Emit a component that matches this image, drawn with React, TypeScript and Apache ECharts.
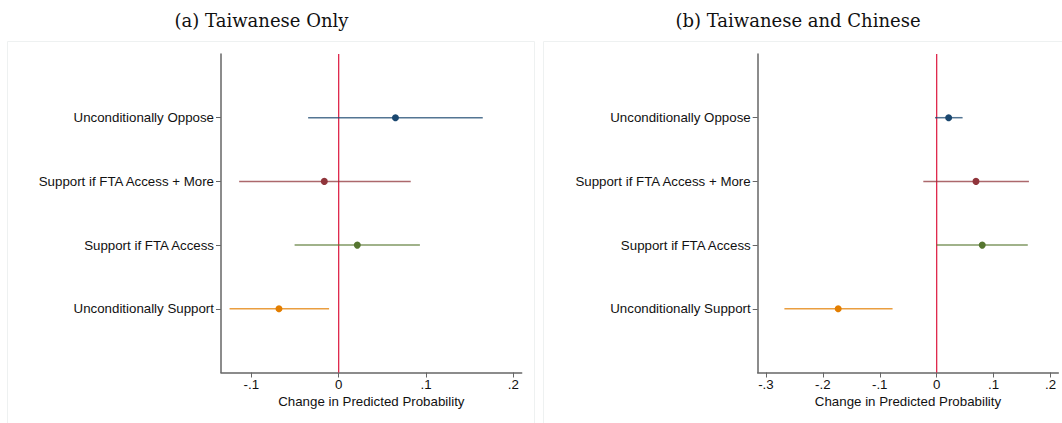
import React, { useEffect, useRef } from "react";
import * as echarts from "echarts";

// Rows, listed top to bottom
const categories = [
  "Unconditionally Oppose",
  "Support if FTA Access + More",
  "Support if FTA Access",
  "Unconditionally Support",
];
const rowColors = ["#1a476f", "#90353b", "#55752f", "#e37e00"];

// (a) Taiwanese Only
const aEst = [0.065, -0.0165, 0.0213, -0.0684];
const aLo = [-0.035, -0.114, -0.0505, -0.125];
const aHi = [0.165, 0.0825, 0.093, -0.011];

// (b) Taiwanese and Chinese
const bEst = [0.021, 0.069, 0.08, -0.173];
const bLo = [-0.003, -0.0235, 0.0, -0.2675];
const bHi = [0.0455, 0.162, 0.16, -0.0775];

const aTicks = [-0.1, 0, 0.1, 0.2];
const bTicks = [-0.3, -0.2, -0.1, 0, 0.1, 0.2];
const rowTicks = [1, 2, 3, 4];

const panelTitles = ["(a) Taiwanese Only", "(b) Taiwanese and Chinese"];
const xName = "Change in Predicted Probability";

const fmtX = (v: number) => {
  if (Math.abs(v) < 1e-9) return "0";
  const s = Math.abs(v).toFixed(1).replace(/^0/, "");
  return (v < 0 ? "-" : "") + s;
};
const rowY = (i: number) => categories.length - i;

export default function App() {
  const ref = useRef<HTMLDivElement>(null);
  useEffect(() => {
    if (!ref.current) return;
    const chart = echarts.init(ref.current, null, { renderer: "svg" });
    const sans = "'Liberation Sans', Arial, Helvetica, sans-serif";
    const axisColor = "#666666";
    const fs = 13.3;

    const makeX = (gi: number, min: number, max: number, ticks: number[]) => ({
      type: "value",
      gridIndex: gi,
      min,
      max,
      name: xName,
      nameLocation: "middle",
      nameGap: 22,
      nameTextStyle: { fontFamily: sans, fontSize: fs, color: "#111" },
      axisLine: { show: true, onZero: false, lineStyle: { color: axisColor, width: 1.5 } },
      axisTick: { show: true, length: 5, customValues: ticks, lineStyle: { color: axisColor, width: 1 } },
      axisLabel: {
        customValues: ticks,
        formatter: (v: number) => fmtX(v),
        fontFamily: sans,
        fontSize: fs,
        color: "#111",
        margin: 5,
      },
      splitLine: { show: false },
    });
    const makeY = (gi: number) => ({
      type: "value",
      gridIndex: gi,
      min: 0,
      max: 5,
      axisLine: { show: true, onZero: false, lineStyle: { color: axisColor, width: 1.5 } },
      axisTick: { show: true, length: 5, customValues: rowTicks, lineStyle: { color: axisColor, width: 1 } },
      axisLabel: {
        customValues: rowTicks,
        formatter: (v: number) => categories[categories.length - Math.round(v)] ?? "",
        fontFamily: sans,
        fontSize: fs,
        color: "#111",
        margin: 7,
      },
      splitLine: { show: false },
    });

    const ciSeries = (gi: number, lo: number[], hi: number[]) => ({
      type: "custom",
      xAxisIndex: gi,
      yAxisIndex: gi,
      data: lo.map((l, i) => [l, hi[i], rowY(i), i]),
      renderItem: (params: any, api: any) => {
        const p1 = api.coord([api.value(0), api.value(2)]);
        const p2 = api.coord([api.value(1), api.value(2)]);
        const idx = api.value(3);
        return {
          type: "line",
          shape: { x1: p1[0], y1: p1[1], x2: p2[0], y2: p2[1] },
          style: { stroke: rowColors[idx], lineWidth: 1.5, opacity: 0.75 },
        };
      },
      z: 3,
    });
    const refLine = (gi: number) => ({
      type: "line",
      xAxisIndex: gi,
      yAxisIndex: gi,
      data: [
        [0, 0],
        [0, 5],
      ],
      symbol: "none",
      lineStyle: { color: "#dc143c", width: 1.2 },
      z: 2,
    });
    const ptSeries = (gi: number, est: number[]) => ({
      type: "scatter",
      xAxisIndex: gi,
      yAxisIndex: gi,
      symbol: "circle",
      symbolSize: 7,
      data: est.map((e, i) => ({ value: [e, rowY(i)], itemStyle: { color: rowColors[i], opacity: 1 } })),
      z: 5,
    });

    const titleFont = "18px 'DejaVu Serif', 'Liberation Serif', serif";

    chart.setOption({
      animation: false,
      backgroundColor: "#ffffff",
      graphic: [
        {
          type: "rect",
          shape: { x: 7.5, y: 41.5, width: 527, height: 420 },
          style: { fill: "none", stroke: "#eef1f1", lineWidth: 1 },
          silent: true,
          z: -1,
        },
        {
          type: "rect",
          shape: { x: 543.5, y: 41.5, width: 540, height: 420 },
          style: { fill: "none", stroke: "#eef1f1", lineWidth: 1 },
          silent: true,
          z: -1,
        },
        {
          type: "text",
          x: 261.5,
          y: 20,
          style: {
            text: panelTitles[0],
            font: titleFont,
            fill: "#111",
            textAlign: "center",
            textVerticalAlign: "middle",
          },
        },
        {
          type: "text",
          x: 798,
          y: 20,
          style: {
            text: panelTitles[1],
            font: titleFont,
            fill: "#111",
            textAlign: "center",
            textVerticalAlign: "middle",
          },
        },
      ],
      grid: [
        { left: 221, top: 54, width: 300.7, height: 318.5 },
        { left: 757.7, top: 54, width: 300.6, height: 318.5 },
      ],
      xAxis: [makeX(0, -0.1348, 0.2096, aTicks), makeX(1, -0.3144, 0.2136, bTicks)],
      yAxis: [makeY(0), makeY(1)],
      series: [
        refLine(0),
        ciSeries(0, aLo, aHi),
        ptSeries(0, aEst),
        refLine(1),
        ciSeries(1, bLo, bHi),
        ptSeries(1, bEst),
      ],
    });
    return () => chart.dispose();
  }, []);
  return (
    <div
      ref={ref}
      style={{ position: "fixed", left: 0, top: 0, width: 1062, height: 423 }}
    />
  );
}
